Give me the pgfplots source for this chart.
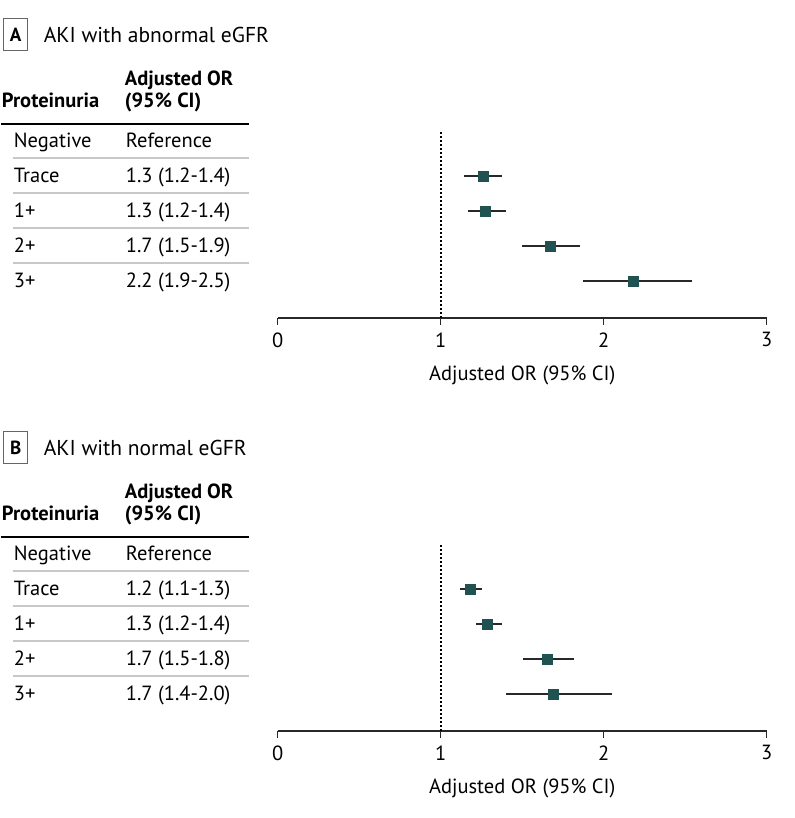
\documentclass[border=0pt]{standalone}
\usepackage{pgfplots}
\usepackage{pgfplotstable}
\pgfplotsset{compat=1.18}
\usepackage{fontspec}
\setmainfont{PT Sans}
\definecolor{sqcol}{RGB}{33,82,82}
\definecolor{rulegray}{RGB}{200,200,200}
\definecolor{axgray}{RGB}{40,40,40}

% forest data: or, ci low, ci high, row
\pgfplotstableread{
row or lo hi
4 1.258 1.140 1.374
3 1.276 1.166 1.399
2 1.669 1.497 1.853
1 2.178 1.871 2.540
}\dataA
\pgfplotstableread{
row or lo hi
4 1.178 1.117 1.252
3 1.288 1.215 1.374
2 1.656 1.503 1.816
1 1.693 1.399 2.049
}\dataB

\newcommand{\bodyfont}{\fontsize{20.5}{24}\selectfont}

\pgfplotsset{forest/.style={
    scale only axis,
    width=489pt, height=186pt,
    xmin=0, xmax=3, ymin=-0.05, ymax=5.26,
    axis x line*=bottom,
    axis y line=none,
    axis line style={axgray, line width=1.5pt},
    xtick={0,1,2,3},
    tick align=outside,
    major tick length=7pt,
    tick style={axgray, line width=1.5pt},
    xticklabel style={font=\bodyfont, yshift=-4pt},
    /pgf/number format/assume math mode=true,
    xlabel={Adjusted OR (95\% CI)},
    xlabel style={font=\bodyfont, yshift=-12pt},
    clip=false,
}}

% left-hand table of one panel: offset, letter, title, four estimates
\newcommand{\panel}[7]{%
  \begin{scope}[yshift=-#1pt]
    \draw[gray!80!black, line width=1pt] (3pt,767pt) rectangle (27pt,799pt);
    \node[font=\fontsize{19}{20}\selectfont\bfseries] at (15pt,783pt) {#2};
    \node[anchor=base west, inner sep=0pt, font=\fontsize{21.5}{24}\selectfont] at (43pt,775pt) {#3};
    \node[anchor=base west, inner sep=0pt, font=\bodyfont\bfseries] at (124pt,732pt) {Adjusted OR};
    \node[anchor=base west, inner sep=0pt, font=\bodyfont\bfseries] at (124pt,710pt) {(95\% CI)};
    \node[anchor=base west, inner sep=0pt, font=\bodyfont\bfseries] at (1pt,710pt) {Proteinuria};
    \draw[black, line width=1.4pt] (0pt,694pt) -- (248pt,694pt);
    \foreach \yy in {660,625,590,555}{
      \draw[rulegray, line width=1.1pt] (12pt,\yy pt) -- (248pt,\yy pt);
    }
    \foreach \yy/\lab in {670/Negative,635/Trace,600/1+,565/2+,530/3+}{
      \node[anchor=base west, inner sep=0pt, font=\bodyfont] at (13pt,\yy pt) {\lab};
    }
    \node[anchor=base west, inner sep=0pt, font=\bodyfont] at (125pt,670pt) {Reference};
    \node[anchor=base west, inner sep=0pt, font=\bodyfont] at (125pt,635pt) {#4};
    \node[anchor=base west, inner sep=0pt, font=\bodyfont] at (125pt,600pt) {#5};
    \node[anchor=base west, inner sep=0pt, font=\bodyfont] at (125pt,565pt) {#6};
    \node[anchor=base west, inner sep=0pt, font=\bodyfont] at (125pt,530pt) {#7};
  \end{scope}%
}

\begin{document}
\begin{tikzpicture}
\path (0pt,0pt) rectangle (794pt,818pt);

\panel{0}{A}{AKI with abnormal eGFR}{1.3 (1.2-1.4)}{1.3 (1.2-1.4)}{1.7 (1.5-1.9)}{2.2 (1.9-2.5)}
\panel{413}{B}{AKI with normal eGFR}{1.2 (1.1-1.3)}{1.3 (1.2-1.4)}{1.7 (1.5-1.8)}{1.7 (1.4-2.0)}

\begin{axis}[forest, at={(277pt,500pt)}, anchor=south west]
\addplot[black, line width=2pt, dash pattern=on 2pt off 2pt] coordinates {(1,-0.05) (1,5.26)};
\addplot[only marks, mark=square*, mark size=5pt, mark options={fill=sqcol, draw=sqcol},
  error bars/.cd, x dir=both, x explicit, error mark=none,
  error bar style={axgray, line width=1.5pt}]
  table[x=or, y=row, x error plus expr=\thisrow{hi}-\thisrow{or},
        x error minus expr=\thisrow{or}-\thisrow{lo}] {\dataA};
\end{axis}

\begin{axis}[forest, at={(277pt,87pt)}, anchor=south west]
\addplot[black, line width=2pt, dash pattern=on 2pt off 2pt] coordinates {(1,-0.05) (1,5.26)};
\addplot[only marks, mark=square*, mark size=5pt, mark options={fill=sqcol, draw=sqcol},
  error bars/.cd, x dir=both, x explicit, error mark=none,
  error bar style={axgray, line width=1.5pt}]
  table[x=or, y=row, x error plus expr=\thisrow{hi}-\thisrow{or},
        x error minus expr=\thisrow{or}-\thisrow{lo}] {\dataB};
\end{axis}
\end{tikzpicture}
\end{document}
